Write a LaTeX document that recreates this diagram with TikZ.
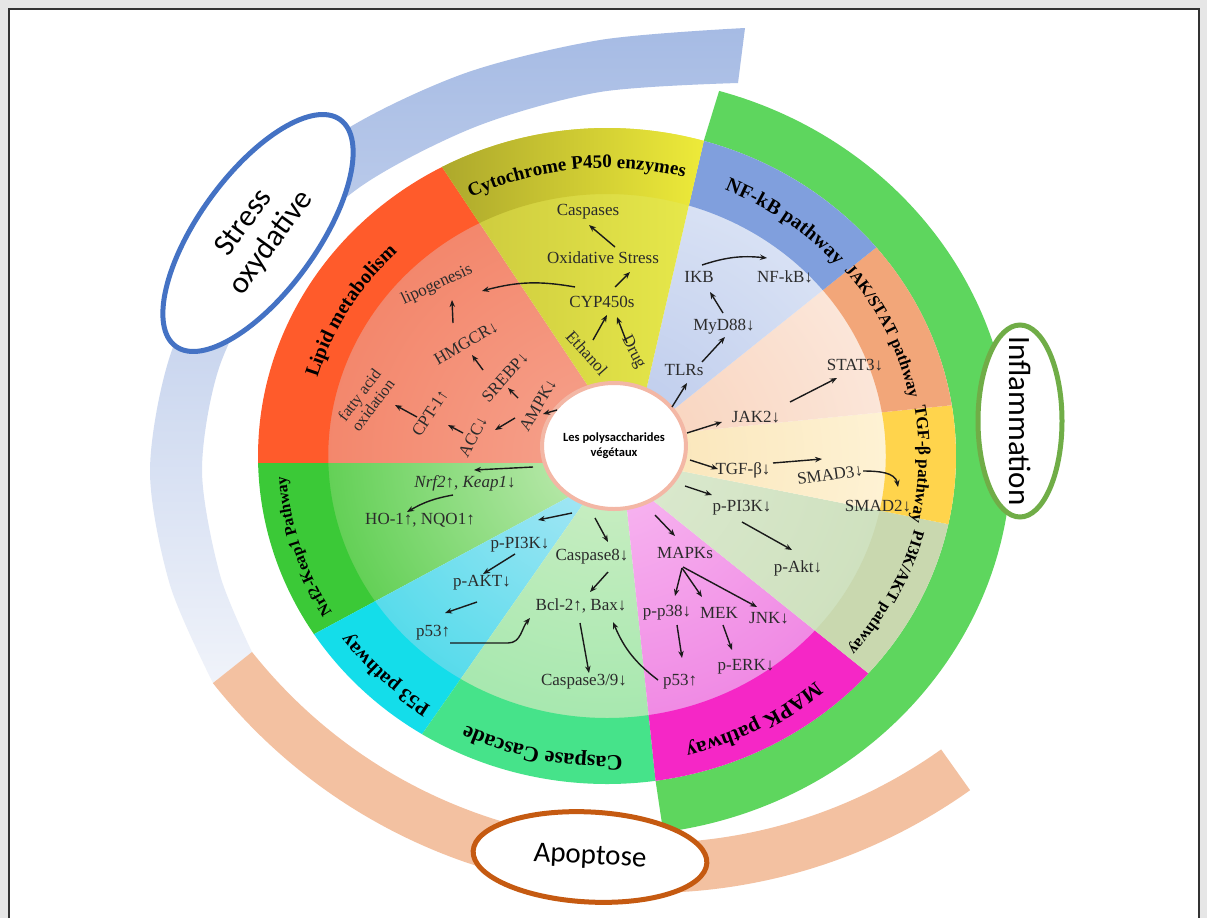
\documentclass[tikz,border=0pt]{standalone}
\usepackage{fontspec}
\setmainfont{Liberation Serif}
\newfontfamily\calib{Carlito}
\usetikzlibrary{arrows.meta,decorations.text,shapes.geometric}
\definecolor{bgG}{HTML}{E6E6E6}
\definecolor{stA}{HTML}{A6BBE4}
\definecolor{stB}{HTML}{F0F3FA}
\definecolor{apC}{HTML}{F3C1A1}
\definecolor{rgG}{HTML}{5ED65E}
\definecolor{lipB}{HTML}{FF5B2B}
\definecolor{lipI}{HTML}{F6A38E}
\definecolor{lipO}{HTML}{F3876C}
\definecolor{cytBL}{HTML}{A9A42B}
\definecolor{cytBR}{HTML}{F2EF3A}
\definecolor{cytIL}{HTML}{C9C63C}
\definecolor{cytIR}{HTML}{EAEC4C}
\definecolor{nfB}{HTML}{809FDD}
\definecolor{nfI}{HTML}{B9C8EB}
\definecolor{nfO}{HTML}{D8E1F4}
\definecolor{jkB}{HTML}{F2A679}
\definecolor{jkI}{HTML}{F8D0B8}
\definecolor{jkO}{HTML}{FBE6D9}
\definecolor{tgB}{HTML}{FFD44C}
\definecolor{tgI}{HTML}{F9E3B4}
\definecolor{tgO}{HTML}{FEF2D4}
\definecolor{piB}{HTML}{C9D8AF}
\definecolor{piI}{HTML}{DCEAD0}
\definecolor{piO}{HTML}{CFE1BF}
\definecolor{mkB}{HTML}{F527C6}
\definecolor{mkI}{HTML}{F8BBF2}
\definecolor{mkO}{HTML}{F08AE4}
\definecolor{csB}{HTML}{46E38A}
\definecolor{csI}{HTML}{CDEEC4}
\definecolor{csO}{HTML}{A7E8AF}
\definecolor{p5B}{HTML}{14DDEA}
\definecolor{p5I}{HTML}{B0E8F6}
\definecolor{p5O}{HTML}{57DBEB}
\definecolor{nrB}{HTML}{3BC937}
\definecolor{nrI}{HTML}{C6ECB8}
\definecolor{nrO}{HTML}{63D056}
\definecolor{cenB}{HTML}{F3B7A5}
\definecolor{elB}{HTML}{4472C4}
\definecolor{elG}{HTML}{70AD47}
\definecolor{elO}{HTML}{C55A11}
\definecolor{labC}{HTML}{2B2B2B}
\definecolor{arrC}{HTML}{1A1A1A}
\newcommand{\labfont}{\fontsize{17}{19}\selectfont}
\newcommand{\wsector}[7]{%
  \begin{scope}
    \clip (#3) -- (#1:328) arc[start angle=#1, end angle=#2, radius=328] -- (#4) -- (C0) -- cycle;
    \shade[inner color=#5, outer color=#6] (0,0) circle[radius=264];
    \fill[#7] (#1-3:330) arc[start angle=#1-3, end angle=#2+3, radius=330] -- (#2+3:262) arc[start angle=#2+3, end angle=#1-3, radius=262] -- cycle;
  \end{scope}}
\newcommand{\wtitle}[5]{%
  \path[decorate, decoration={text along path, text align=center, text={|\fontsize{#3}{#3}\selectfont\bfseries|#5}}] (#1:#4) arc[start angle=#1, end angle=#2, radius=#4];}
\begin{document}
\begin{tikzpicture}[x=1pt,y=1pt,
  lab/.style={font=\labfont, inner sep=0.5pt, text=labC},
  arr/.style={-{Stealth[length=7pt,width=5.5pt]}, line width=1.4pt, draw=arrC},
  ovl/.style={ellipse, fill=white, line width=5pt, inner sep=0pt, font=\calib\fontsize{31}{34}\selectfont, align=center}]
\useasboundingbox (0,0) rectangle (1207,-918);
\fill[bgG] (0,0) rectangle (1207,-918);
\fill[white] (9,-9) rectangle (1199,-918);
\draw[line width=1.2pt, black!80] (9,-918) -- (9,-9) -- (1199,-9) -- (1199,-918);
% stress arc
\shade[top color=stA, bottom color=stB]
  plot[smooth] coordinates {(745,-28) (600,-40) (460,-75) (330,-140) (232,-240) (172,-350) (150,-470) (170,-585) (213,-683)}
  -- plot[smooth] coordinates {(252,-652) (220,-575) (202,-470) (220,-365) (272,-270) (360,-187) (475,-127) (600,-92) (738,-83)} -- cycle;
% apoptose arc
\begin{scope}[shift={(648,-337)}]
  \fill[apC] (218.5:556) arc[start angle=218.5, end angle=305.4, radius=556] -- (305.4:506) arc[start angle=305.4, end angle=218.5, radius=506] -- cycle;
\end{scope}
% inner points
\coordinate (C0) at (614,-446);
\coordinate (bA) at (560,-463);
\coordinate (bB) at (592,-392);
\coordinate (bC) at (645,-395);
\coordinate (bD) at (668,-414);
\coordinate (bE) at (676,-433);
\coordinate (bF) at (676,-470);
\coordinate (bG) at (646,-495);
\coordinate (bH) at (626,-500);
\coordinate (bI) at (588,-497);
\coordinate (bJ) at (578,-492);
\begin{scope}[shift={(607,-456)}, xscale=1.064]
  % inflammation ring
  \fill[rgG] (-82:380) arc[start angle=-82, end angle=73.9, radius=380] -- (73.9:328) arc[start angle=73.9, end angle=-82, radius=328] -- cycle;
  \wsector{-178.8}{-147.1}{bA}{bJ}{nrI}{nrO}{nrB}
  \wsector{-147.1}{-122}{bJ}{bI}{p5I}{p5O}{p5B}
  \wsector{-122}{-82}{bI}{bH}{csI}{csO}{csB}
  \wsector{-82}{-41.5}{bH}{bG}{mkI}{mkO}{mkB}
  \wsector{-41.5}{-12}{bG}{bF}{piI}{piO}{piB}
  \wsector{-12}{8.9}{bF}{bE}{tgI}{tgO}{tgB}
  \wsector{8.9}{39.5}{bE}{bD}{jkI}{jkO}{jkB}
  \wsector{39.5}{73.9}{bD}{bC}{nfI}{nfO}{nfB}
  \wsector{118.2}{181.2}{bB}{bA}{lipI}{lipO}{lipB}
  \begin{scope}
    \clip (bC) -- (73.9:328) arc[start angle=73.9, end angle=118.2, radius=328] -- (bB) -- (C0) -- cycle;
    \shade[left color=cytIL, right color=cytIR] (-170,0) rectangle (110,330);
    \shade[left color=cytBL, right color=cytBR] (70.9:330) arc[start angle=70.9, end angle=121.2, radius=330] -- (121.2:262) arc[start angle=121.2, end angle=70.9, radius=262] -- cycle;
  \end{scope}
  \wtitle{194.7}{104.7}{20}{283}{Lipid metabolism}
  \wtitle{141}{51}{19}{288}{Cytochrome P450 enzymes}
  \wtitle{98.7}{8.7}{20}{288}{NF-kB pathway}
  \wtitle{70}{-20}{16.5}{290}{JAK/STAT pathway}
  \wtitle{43.45}{-46.55}{17}{293}{TGF-β pathway}
  \wtitle{18.25}{-71.75}{16}{298}{PI3K/AKT pathway}
  \wtitle{-16.75}{-106.75}{21}{299}{MAPK pathway}
  \wtitle{-57}{-147}{22}{300}{Caspase Cascade}
  \wtitle{-89.5}{-179.5}{20}{300}{P53 pathway}
  \wtitle{-117.9}{-207.9}{16}{302}{Nrf2-Keap1 Pathway}
\end{scope}
% centre
\node[ellipse, draw=cenB, line width=4pt, fill=white, minimum width=140, minimum height=126, align=center, inner sep=0pt,
  font=\calib\bfseries\fontsize{12.5}{15}\selectfont] (cen) at (614,-446) {Les polysaccharides\\végétaux};
% lipid
\node[lab, rotate=25] (lipo) at (437,-285) {lipogenesis};
\node[lab, rotate=30] (hmgcr) at (466,-343) {HMGCR↓};
\node[lab, rotate=48] (srebp) at (505,-377) {SREBP↓};
\node[lab, rotate=60] (ampk) at (538,-405) {AMPK↓};
\node[lab, rotate=62] (acc) at (473,-437) {ACC↓};
\node[lab, rotate=57] (cpt) at (430,-413) {CPT-1↑};
\node[lab, rotate=53, align=center, font=\fontsize{16}{17}\selectfont] (fao) at (366,-400) {fatty acid\\oxidation};
% cytochrome
\node[lab] (casp) at (588,-212) {Caspases};
\node[lab] (oxs) at (603,-258) {Oxidative Stress};
\node[lab] (cyp) at (602,-302) {CYP450s};
\node[lab, rotate=-48] (eth) at (587,-353) {Ethanol};
\node[lab, rotate=-63] (drug) at (633,-352) {Drug};
% NF-kB
\node[lab] (ikb) at (699,-277) {IKB};
\node[lab] (nfkb) at (785,-277) {NF-kB↓};
\node[lab] (myd) at (724,-327) {MyD88↓};
\node[lab] (tlrs) at (684,-370) {TLRs};
% JAK
\node[lab] (jak2) at (756,-417) {JAK2↓};
\node[lab] (stat3) at (855,-365) {STAT3↓};
% TGF
\node[lab] (tgf) at (743,-470) {TGF-β↓};
\node[lab, rotate=8] (smad3) at (830,-475) {SMAD3↓};
\node[lab] (smad2) at (878,-506) {SMAD2↓};
% PI3K
\node[lab] (ppi3k) at (742,-508) {p-PI3K↓};
\node[lab] (pakt) at (798,-568) {p-Akt↓};
% MAPK
\node[lab] (mapks) at (685,-553) {MAPKs};
\node[lab] (pp38) at (667,-613) {p-p38↓};
\node[lab] (mek) at (719,-613) {MEK};
\node[lab] (jnk) at (769,-618) {JNK↓};
\node[lab] (perk) at (746,-667) {p-ERK↓};
\node[lab] (p53m) at (680,-682) {p53↑};
% caspase
\node[lab] (casp8) at (592,-557) {Caspase8↓};
\node[lab] (bcl) at (581,-606) {Bcl-2↑, Bax↓};
\node[lab] (casp39) at (584,-682) {Caspase3/9↓};
% p53
\node[lab] (ppi3kb) at (520,-545) {p-PI3K↓};
\node[lab] (paktb) at (482,-583) {p-AKT↓};
\node[lab] (p53b) at (433,-633) {p53↑};
% Nrf2
\node[lab] (nrf2) at (465,-483) {\textit{Nrf2}↑, \textit{Keap1}↓};
\node[lab] (ho1) at (420,-520) {HO-1↑, NQO1↑};
% arrows lipid
\draw[arr] ([shift={(-13,20)}]hmgcr.center) -- ([shift={(15,-15)}]lipo.center);
\draw[arr] ([shift={(-22,7)}]srebp.center) -- ([shift={(6,-12)}]hmgcr.center);
\draw[arr] ([shift={(-20,7)}]ampk.center) -- ([shift={(3,-11)}]srebp.center);
\draw[arr] ([shift={(-57,36)}]cen.center) -- ([shift={(5,-9)}]ampk.center);
\draw[arr] ([shift={(-23,-13)}]ampk.center) -- ([shift={(22,7)}]acc.center);
\draw[arr] ([shift={(-10,4)}]acc.center) -- ([shift={(18,-12)}]cpt.center);
\draw[arr] ([shift={(-13,-4)}]cpt.center) -- ([shift={(29,-5)}]fao.center);
\draw[arr] ([shift={(-27,15)}]cyp.center) to[out=170, in=15] ([shift={(45,-6)}]lipo.center);
% cyt
\draw[arr] ([shift={(12,11)}]oxs.center) -- ([shift={(1,-13)}]casp.center);
\draw[arr] ([shift={(13,15)}]cyp.center) -- ([shift={(27,-14)}]oxs.center);
\draw[arr] ([shift={(6,13)}]eth.center) -- ([shift={(5,-13)}]cyp.center);
\draw[arr] ([shift={(-6,9)}]drug.center) -- ([shift={(15,-15)}]cyp.center);
% nf-kb
\draw[arr] ([shift={(58,39)}]cen.center) -- ([shift={(3,-13)}]tlrs.center);
\draw[arr] ([shift={(18,8)}]tlrs.center) -- ([shift={(1,-10)}]myd.center);
\draw[arr] ([shift={(-1,14)}]myd.center) -- ([shift={(11,-15)}]ikb.center);
\draw[arr] ([shift={(3,12)}]ikb.center) to[bend left=12] ([shift={(-18,19)}]nfkb.center);
% jak
\draw[arr] ([shift={(73,13)}]cen.center) -- ([shift={(-34,-5)}]jak2.center);
\draw[arr] ([shift={(34,15)}]jak2.center) -- ([shift={(-18,-13)}]stat3.center);
% tgf
\draw[arr] ([shift={(76,-14)}]cen.center) -- ([shift={(-25,1)}]tgf.center);
\draw[arr] ([shift={(30,7)}]tgf.center) -- ([shift={(-8,16)}]smad3.center);
\draw[arr] ([shift={(33,4)}]smad3.center) to[out=0, in=100] ([shift={(20,19)}]smad2.center);
% pi3k
\draw[arr] ([shift={(71,-40)}]cen.center) -- ([shift={(-30,13)}]ppi3k.center);
\draw[arr] ([shift={(0,-14)}]ppi3k.center) -- ([shift={(-6,18)}]pakt.center);
% mapk
\draw[arr] ([shift={(41,-69)}]cen.center) -- ([shift={(-10,17)}]mapks.center);
\draw[arr] ([shift={(-3,-15)}]mapks.center) -- ([shift={(8,17)}]pp38.center);
\draw[arr] ([shift={(-3,-15)}]mapks.center) -- ([shift={(-17,16)}]mek.center);
\draw[arr] ([shift={(-2,-14)}]mapks.center) -- ([shift={(-12,11)}]jnk.center);
\draw[arr] ([shift={(10,-12)}]pp38.center) -- ([shift={(2,24)}]p53m.center);
\draw[arr] ([shift={(4,-12)}]mek.center) -- ([shift={(-14,17)}]perk.center);
% caspase
\draw[arr] ([shift={(-19,-72)}]cen.center) -- ([shift={(16,15)}]casp8.center);
\draw[arr] ([shift={(16,-15)}]casp8.center) -- ([shift={(9,14)}]bcl.center);
\draw[arr] ([shift={(-1,-17)}]bcl.center) -- ([shift={(5,9)}]casp39.center);
\draw[arr] ([shift={(-22,2)}]p53m.center) to[bend left=15] ([shift={(32,-16)}]bcl.center);
% p53
\draw[arr] ([shift={(-42,-67)}]cen.center) -- ([shift={(18,25)}]ppi3kb.center);
\draw[arr] ([shift={(-5,-9)}]ppi3kb.center) -- ([shift={(1,9)}]paktb.center);
\draw[arr] ([shift={(-5,-19)}]paktb.center) -- ([shift={(12,20)}]p53b.center);
\draw[arr] ([shift={(17,-10)}]p53b.center) -- ++(58,0) to[out=0, in=-130] ([shift={(-51,-12)}]bcl.center);
% nrf2
\draw[arr] ([shift={(-81,-21)}]cen.center) -- ([shift={(9,13)}]nrf2.center);
\draw[arr] ([shift={(-12,-12)}]nrf2.center) to[bend right=10] ([shift={(-13,8)}]ho1.center);
% ellipses
\node[ovl, draw=elB, rotate=54, minimum width=280, minimum height=118] (stress) at (258,-233) {Stress\\oxydative};
\node[ovl, draw=elG, rotate=-90, minimum width=192, minimum height=84] (infl) at (1020,-421) {};
\node[font=\calib\fontsize{31}{34}\selectfont, rotate=-90] (infltxt) at (infl.center) {Inflammation};
\node[ovl, draw=elO, rotate=-3, minimum width=234, minimum height=90, font=\calib\fontsize{29}{32}\selectfont] (apop) at (590,-857) {Apoptose};
\end{tikzpicture}
\end{document}
